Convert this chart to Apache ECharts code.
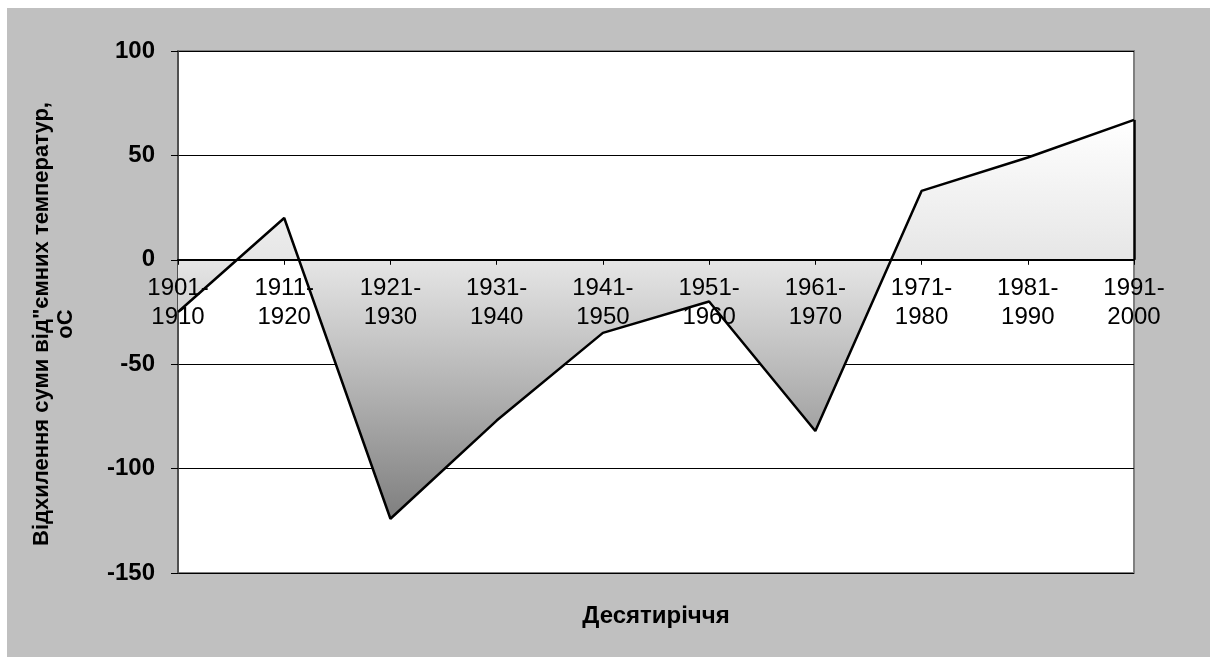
<!DOCTYPE html>
<html>
<head>
<meta charset="utf-8">
<script src="https://cdn.jsdelivr.net/npm/echarts@6/dist/echarts.min.js"></script>
<style>
  html, body { margin: 0; padding: 0; background: #fff; }
  #chart { position: absolute; left: 7px; top: 8px; width: 1203px; height: 649px; }
</style>
</head>
<body>
<div id="chart"></div>
<script>
const decades = ["1901-1910", "1911-1920", "1921-1930", "1931-1940", "1941-1950", "1951-1960", "1961-1970", "1971-1980", "1981-1990", "1991-2000"];
const deviations = [-25, 20, -124, -77, -35, -20, -82, 33, 49, 67];
const yTicks = { min: -150, max: 100, step: 50 };
const yTitle = "Відхилення суми від\"ємних температур,\noC";
const xTitle = "Десятиріччя";

const font = "'Liberation Sans', Arial, sans-serif";
const chart = echarts.init(document.getElementById("chart"), null, { renderer: "canvas" });
const last = decades.length - 1;
const grid = { left: 171, top: 43, right: 76, bottom: 84 };
// category axis sits on the zero line: shift it up from the grid bottom by the scale
const plotHeight = 649 - grid.top - grid.bottom;
const zeroOffset = -plotHeight * (0 - yTicks.min) / (yTicks.max - yTicks.min);

chart.setOption({
  animation: false,
  backgroundColor: "#c0c0c0",
  grid: { ...grid, outerBoundsMode: "none", containLabel: false, show: true, backgroundColor: "#fff", borderColor: "#808080", borderWidth: 2 },
  xAxis: {
    type: "category", data: decades, boundaryGap: false, z: 5, position: "bottom", offset: zeroOffset,
    name: xTitle, nameLocation: "middle", nameGap: 345,
    nameTextStyle: { fontFamily: font, fontSize: 24, fontWeight: "bold", color: "#000" },
    axisLine: { onZero: false, lineStyle: { color: "#000", width: 2 } },
    axisTick: { show: true, length: 5, lineStyle: { color: "#000", width: 1 } },
    axisLabel: { fontFamily: font, fontSize: 24, color: "#000", lineHeight: 29, margin: 14, interval: 0, formatter: v => v.replace("-", "-\n") },
    splitLine: { show: false },
  },
  yAxis: {
    type: "value", min: yTicks.min, max: yTicks.max, interval: yTicks.step,
    name: yTitle, nameLocation: "middle", nameGap: 100,
    nameTextStyle: { fontFamily: font, fontSize: 22, fontWeight: "bold", color: "#000", lineHeight: 24, padding: [0, 24, 0, 0] },
    axisLine: { show: true, lineStyle: { color: "#404040", width: 1.5 } },
    axisTick: { show: true, length: 7, lineStyle: { color: "#000", width: 1 } },
    axisLabel: { fontFamily: font, fontSize: 24, fontWeight: "bold", color: "#000", margin: 23 },
    splitLine: { show: true, lineStyle: { color: "#000", width: 1 } },
  },
  series: [
    {
      // gradient fill between the curve and zero, under the axis labels
      type: "line", data: deviations, symbol: "none", z: 2,
      lineStyle: { width: 0 },
      areaStyle: {
        opacity: 1,
        color: new echarts.graphic.LinearGradient(0, 0, 0, 1, [
          { offset: 0, color: "#ffffff" },
          { offset: 0.35, color: "#e6e6e6" },
          { offset: 1, color: "#7f7f7f" },
        ]),
      },
    },
    {
      type: "line", data: deviations, symbol: "none", z: 6,
      lineStyle: { color: "#000", width: 2.5 },
      markLine: {
        silent: true, symbol: "none", label: { show: false },
        lineStyle: { color: "#000", width: 2.5, type: "solid" },
        data: [[{ coord: [decades[last], 0] }, { coord: [decades[last], deviations[last]] }]],
      },
    },
  ],
});
window.addEventListener("resize", () => chart.resize());
</script>
</body>
</html>
